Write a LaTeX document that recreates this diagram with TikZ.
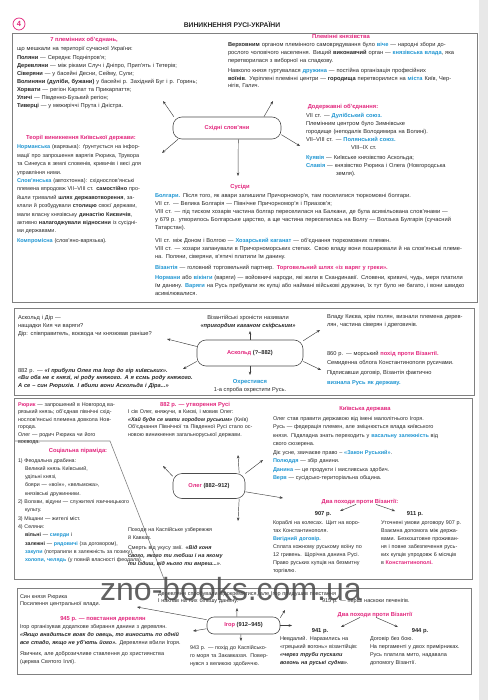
\documentclass[tikz,border=0pt]{standalone}
\usepackage{fontspec}
\setmainfont{Liberation Sans}
\usetikzlibrary{arrows.meta}
\definecolor{pk}{RGB}{226,38,125}
\definecolor{bl}{RGB}{32,150,210}
\definecolor{tx}{RGB}{40,40,40}
\newcommand{\pnk}[1]{\textcolor{pk}{\bfseries #1}}
\newcommand{\blu}[1]{\textcolor{bl}{\bfseries #1}}
\newcommand{\jst}[1]{\makebox[\linewidth][s]{#1}}
\newcommand{\qt}[1]{\textbf{\textit{#1}}}
\tikzset{
  txt/.style 2 args={inner sep=0pt, outer sep=0pt, anchor=north west, align=left, text=tx,
    font=\fontsize{#1}{#2}\selectfont, execute at begin node={\rule{0pt}{5.4pt}}},
  ttl/.style={inner sep=0pt, anchor=base, text=pk, font=\fontsize{5.8}{7}\selectfont\bfseries},
  yr/.style={inner sep=0pt, anchor=base, text=tx, font=\fontsize{5.8}{7}\selectfont\bfseries},
  hub/.style={draw=black!70, line width=0.6pt, rounded corners=9pt, fill=white, inner sep=0pt,
    font=\fontsize{5.7}{7}\selectfont\bfseries, text=tx},
  arr/.style={draw=black!75, line width=0.45pt, -{Stealth[length=3.4pt,width=2.6pt]}},
  panel/.style={draw=black!50, line width=0.6pt}
}
\begin{document}
\begin{tikzpicture}[x=1pt,y=-1pt]
\useasboundingbox (0,0) rectangle (488,700);
\fill[white] (0,0) rectangle (488,700);
\fill[black!9] (479,0) rectangle (488,700);

% header
\node[circle, draw=pk, line width=0.7pt, minimum size=12pt, inner sep=0pt, text=pk,
  font=\fontsize{7.5}{8}\selectfont\bfseries] (num) at (19,24) {4};
\node[inner sep=0pt, text=black!85, font=\fontsize{6.8}{8}\selectfont\bfseries] (head) at (232,25) {ВИНИКНЕННЯ РУСІ-УКРАЇНИ};

% ---------------- Panel 1
\draw[panel] (12,33) rectangle (477,302);
\node[ttl] (t1) at (84,42) {7 племінних об’єднань,};
\node[txt={5.7}{8.1}, text width=210pt] (b1) at (17,51-5.4) {що мешкали на території сучасної України:\\
\textbf{Поляни} — Середнє Подніпров’я;\\
\textbf{Деревляни} — між ріками Случ і Дніпро, Прип’ять і Тетерів;\\
\textbf{Сіверяни} — у басейні Десни, Сейму, Сули;\\
\textbf{Волиняни (дуліби, бужани)} у басейні р. Західний Буг і р. Горинь;\\
\textbf{Хорвати} — регіон Карпат та Прикарпаття;\\
\textbf{Уличі} — Південно-Бузький регіон;\\
\textbf{Тиверці} — у межиріччі Прута і Дністра.};

\node[ttl] (t2) at (341,39) {Племінні князівства};
\node[txt={5.7}{7.8}, text width=240pt] (b2) at (228,47-5.4) {\jst{\textbf{Верховним} органом племінного самоврядування було \blu{віче} — народні збори до-}\\
\jst{рослого чоловічого населення. Вищий \textbf{виконавчий} орган — \blu{князівська влада}, яка}\\
перетворилася з виборної на спадкову.\\[2pt]
\jst{Навколо князя гуртувалася \blu{дружина} — постійна організація професійних}\\
\jst{\textbf{воїнів}. Укріплені племінні центри — \textbf{городища} перетворилися на \blu{міста} Київ, Чер-}\\
нігів, Галич.};

\node[ttl] (t3) at (343,109) {Додержавні об’єднання:};
\node[txt={5.7}{8}, text width=162pt] (b3) at (306,118-5.4) {VII ст. — \blu{Дулібський союз.}\\
Племінним центром було Зимнівське\\
городище (неподалік Володимира на Волині).\\
VII–VIII ст. — \blu{Полянський союз.}\\
\hspace*{45pt}VIII–IX ст.\\[2pt]
\blu{Куявія} — Київське князівство Аскольда;\\
\blu{Славія} — князівство Рюрика і Олега (Новгородська\\
\hspace*{30pt}земля).};

\node[hub, minimum width=108pt, minimum height=22pt, text=pk] (ss) at (227,128) {Східні слов’яни};

\node[ttl] (t4) at (81,140) {Теорії виникнення Київської держави:};
\node[txt={5.5}{8.4}, text width=130pt] (b4) at (17,149-5.4) {\jst{\blu{Норманська} (варязька): ґрунтується на інфор-}\\
\jst{мації про запрошення варягів Рюрика, Трувора}\\
\jst{та Синеуса в землі словенів, кривичів і весі для}\\
управління ними.\\
\jst{\blu{Слов’янська} (автохтонна): східнослов’янські}\\
\jst{племена впродовж VII–VIII ст. \textbf{самостійно} про-}\\
\jst{йшли тривалий \textbf{шлях державотворення}, за-}\\
\jst{клали й розбудували \textbf{столицю} своєї держави,}\\
\jst{мали власну князівську \textbf{династію Києвичів},}\\
\jst{активно \textbf{налагоджували відносини} із сусідні-}\\
ми державами.\\[1.6pt]
\blu{Компромісна} (слов’яно-варязька).};

\node[ttl] (t5) at (240,189) {Сусіди};
\node[txt={5.7}{8}, text width=306pt] (b5) at (155,198-5.4) {\blu{Болгари.} Після того, як авари залишили Причорномор’я, там поселилися тюркомовні болгари.\\
VII ст. — Велика Болгарія — Північне Причорномор’я і Приазов’я;\\
\jst{VIII ст. — під тиском хозарів частина болгар переселилася на Балкани, де була асимільована слов’янами —}\\
\jst{у 679 р. утворилось Болгарське царство, а ще частина переселилась на Волгу — Волзька Булгарія (сучасний}\\
Татарстан).\\[5pt]
VII ст. між Доном і Волгою — \blu{Хозарський каганат} — об’єднання тюркомовних племен.\\
\jst{VIII ст. — хозари запанували в Причорноморських степах. Свою владу вони поширювали й на слов’янські племе-}\\
на. Поляни, сіверяни, в’ятичі платили їм данину.\\[3pt]
\blu{Візантія} — головний торговельний партнер. \pnk{Торговельний шлях «із варяг у греки».}\\[2pt]
\jst{\blu{Нормани} або \blu{вікінги} (варяги) — войовничі народи, які жили в Скандинавії. Словени, кривичі, чудь, меря платили}\\
\jst{їм данину. \blu{Варяги} на Русь прибували як купці або наймані військові дружини, їх тут було не багато, і вони швидко}\\
асимілювалися.};

\coordinate (a1) at (163,101);
\coordinate (a2) at (273,101);
\coordinate (a3) at (162,153);
\coordinate (a4) at (238,176);
\coordinate (a5) at (300,146);
\draw[arr] (ss.168) -- (a1);
\draw[arr] (ss.17) -- (a2);
\draw[arr] (ss.193) -- (a3);
\draw[arr] (ss.-45) -- (a4);
\draw[arr] (ss.-7) -- (a5);

% ---------------- Panel 2
\draw[panel] (14,308) rectangle (474,395);
\node[txt={5.7}{8}, text width=165pt] (b6) at (18,319-5.4) {Аскольд і Дір —\\
нащадки Кия чи варяги?\\
Дір: співправитель, воєвода чи князював раніше?};
\node[txt={5.7}{8}, text width=130pt, align=center, anchor=north] (b7) at (248,319-5.4) {Візантійські хроністи називали\\
\qt{«пригордим каганом скіфським»}};
\node[txt={5.7}{8}, text width=139pt] (b8) at (327,318-5.4) {\jst{Владу Києва, крім полян, визнали племена дерев-}\\
лян, частина сіверян і дреговичів.};
\node[hub, minimum width=106pt, minimum height=26pt] (ask) at (250,353) {\textcolor{pk}{Аскольд} (?–882)};
\node[txt={5.7}{7.6}, text width=178pt] (b9) at (18,372-5.4) {882 р. — \qt{«І прибули Олег та Ігор до гір київських».}\\
\qt{«Ви оба не є князі, ні роду княжого. А я єсмь роду княжого.}\\
\qt{А се – син Рюрихів. І вбили вони Аскольда і Діра...»}};
\node[ttl, text=bl] (t6) at (250,383) {Охрестився};
\node[inner sep=0pt, anchor=base, text=tx, font=\fontsize{5.7}{7}\selectfont] (t7) at (250,391) {1-а спроба охрестити Русь.};
\node[txt={5.7}{9.7}, text width=145pt] (b10) at (327,355-5.4) {860 р. — морський \pnk{похід проти Візантії.}\\
Семиденна облога Константинополя русичами.\\
Підписавши договір, Візантія фактично\\
\blu{визнала Русь як державу.}};

\coordinate (a6) at (250,331);
\coordinate (a7) at (167,339);
\coordinate (a8) at (320,330);
\coordinate (a9) at (183,369);
\coordinate (a10) at (250,375);
\coordinate (a11) at (321,370);
\draw[arr] (ask.north) -- (a6);
\draw[arr] (ask.173) -- (a7);
\draw[arr] (ask.13) -- (a8);
\draw[arr] (ask.189) -- (a9);
\draw[arr] (ask.south) -- (a10);
\draw[arr] (ask.-9) -- (a11);

% ---------------- Panel 3
\draw[panel] (14,398) rectangle (472,579);
\draw[panel] (14,441) -- (110,441) -- (164,579);
\node[txt={5.4}{7.5}, text width=98pt] (b11) at (18,406-5.4) {\jst{\pnk{Рюрик} — запрошений в Новгород ва-}\\
\jst{рязький князь; об’єднав північні схід-}\\
\jst{нослов’янські племена довкола Нов-}\\
города.\\
Олег — родич Рюрика чи його воєвода.};
\node[ttl] (t8) at (78,452) {Соціальна піраміда:};
\node[txt={5.3}{8.3}, text width=150pt] (b12) at (18,462-5.4) {1) Феодальна драбина:\\
\hspace*{7pt}Великий князь Київський,\\
\hspace*{7pt}удільні князі,\\
\hspace*{7pt}бояри — «воїн», «вельможа»,\\
\hspace*{7pt}князівські дружинники.\\
2) Волхви, відуни — служителі язичницького\\
\hspace*{7pt}культу.\\
3) Міщани — жителі міст.\\
4) Селяни:\\
\hspace*{7pt}\textbf{вільні} — \blu{смерди} і\\
\hspace*{7pt}\textbf{залежні} — \blu{рядовичі} (за договором),\\
\hspace*{7pt}\blu{закупи} (потрапили в залежність за позику),\\
\hspace*{7pt}\blu{холопи, челядь} (у повній власності феодала).};

\node[ttl] (t9) at (195,406) {882 р. — утворення Русі};
\node[txt={5.4}{7.5}, text width=124pt] (b13) at (128,413.5-5.4) {\jst{І сів Олег, княжучи, в Києві, і мовив Олег:}\\
\jst{\qt{«Хай буде се мати городом руським»} (Київ)}\\
\jst{Об’єднання Північної та Південної Русі стало ос-}\\
новою виникнення загальноруської держави.};
\node[hub, minimum width=72pt, minimum height=25pt] (oleg) at (209,486) {\textcolor{pk}{Олег} (882–912)};
\node[txt={5.4}{8}, text width=124pt] (b14) at (128,531-5.4) {Походи на Каспійське узбережжя\\
й Кавказ.\\[2pt]
\jst{Смерть від укусу змії. \qt{«Від коня}}\\
\jst{\qt{свого, якого ти любиш і на якому}}\\
\qt{ти їздиш, від нього ти вмреш...»}.};

\node[ttl] (t10) at (365,410) {Київська держава};
\node[txt={5.5}{8.5}, text width=182pt] (b15) at (273,420-5.4) {Олег став правити державою від імені малолітнього Ігоря.\\
\jst{Русь — федерація племен, але зміцнюється влада київського}\\
\jst{князя. Підвладна знать переходить у \blu{васальну залежність} від}\\
свого сюзерена.\\
Діє усне, звичаєве право – \blu{«Закон Руський»}.\\
\blu{Полюддя} — збір данини.\\
\blu{Данина} — це продукти і мисливська здобич.\\
\blu{Верв} — сусідсько-територіальна община.};

\node[ttl] (dp1) at (360,503) {Два походи проти Візантії:};
\coordinate (a17) at (340,511);
\coordinate (a18) at (395,511);
\draw[arr] ([xshift=-4pt]dp1.south) -- (a17);
\draw[arr] ([xshift=16pt]dp1.south) -- (a18);
\node[yr] (y907) at (323,515) {907 р.};
\node[yr] (y911) at (415,515) {911 р.};
\node[txt={5.4}{8.15}, text width=103pt] (b16) at (273,524-5.4) {\jst{Кораблі на колесах. Щит на воро-}\\
тах Константинополя.\\
\blu{Вигідний договір.}\\
\jst{Сплата кожному руському воїну по}\\
\jst{12 гривень. Щорічна данина Русі.}\\
\jst{Право руських купців на безмитну}\\
торгівлю.};
\node[txt={5.4}{8.15}, text width=86pt] (b17) at (381,524-5.4) {Уточнені умови договору 907 р.\\
\jst{Взаємна допомога між держа-}\\
\jst{вами. Безкоштовне проживан-}\\
\jst{ня і повне забезпечення русь-}\\
\jst{ких купців упродовж 6 місяців}\\
в \pnk{Константинополі.}};

\coordinate (a12) at (163,466);
\coordinate (a13) at (238,455);
\coordinate (a14) at (263,460);
\coordinate (a15) at (283,498);
\coordinate (a16) at (238,521);
\draw[arr] (oleg.165) -- (a12);
\draw[arr] (oleg.23) -- (a13);
\draw[arr] (oleg.19) -- (a14);
\draw[arr] (oleg.-9) -- (a15);
\draw[arr] (oleg.-23) -- (a16);

% ---------------- Panel 4
\draw[panel] (17,588) rectangle (471,674);
\node[txt={5.5}{7.5}, text width=100pt] (b18) at (20,598-5.4) {Син князя Рюрика\\
Посилення центральної влади.};
\node[ttl] (t11) at (103,620) {945 р. — повстання деревлян};
\node[txt={5.5}{8}, text width=163pt] (b19) at (20,628-5.4) {\jst{Ігор організував додаткове збирання данини з деревлян.}\\
\jst{\qt{«Якщо внадиться вовк до овець, то виносить по одній}}\\
\jst{\qt{все стадо, якщо не уб’ють його».} Деревляни вбили Ігоря.}\\[3pt]
\jst{Язичник, але доброзичливе ставлення до християнства}\\
(церква Святого Іллі).};
\node[hub, minimum width=73pt, minimum height=17pt, rounded corners=7pt] (igor) at (243.5,625.5) {\textcolor{pk}{Ігор} (912–945)};
\node[txt={5.5}{7.5}, text width=210pt] (b20) at (158,595-5.4) {Деревляни спробували відокремитися, але Ігор придушив повстання\\
І наклав на них більшу данину.};
\node[txt={5.5}{7.5}, text width=110pt] (b21) at (322,602-5.4) {915 р. — перші наскоки печенігів.};
\node[ttl] (dp2) at (375,616) {Два походи проти Візантії};
\coordinate (a25) at (341,627);
\coordinate (a26) at (398,627);
\draw[arr] ([xshift=-15pt]dp2.south) -- (a25);
\draw[arr] ([xshift=1pt]dp2.south) -- (a26);
\node[yr] (y941) at (320,632) {941 р.};
\node[yr] (y944) at (420,632) {944 р.};
\node[txt={5.5}{8.3}, text width=88pt] (b22) at (280,640-5.4) {Невдалий. Наразились на\\
«грецький вогонь» візантійців:\\
\qt{«через труби пускали}\\
\qt{вогонь на руські судна»}.};
\node[txt={5.5}{8.3}, text width=98pt] (b23) at (370,640-5.4) {Договір без бою.\\
На пергаменті у двох примірниках.\\
Русь платила мито, надавала\\
допомогу Візантії.};
\node[txt={5.4}{8}, text width=80pt] (b24) at (190,649-5.4) {\jst{943 р. — похід до Каспійсько-}\\
\jst{го моря та Закавказзя. Повер-}\\
нувся з великою здобиччю.};

\coordinate (a19) at (137,607);
\coordinate (a20) at (193,631);
\coordinate (a21) at (237,608);
\coordinate (a22) at (241,641);
\coordinate (a23) at (285,610);
\coordinate (a24) at (292,625.5);
\draw[arr] (igor.171) -- (a19);
\draw[arr] (igor.185) -- (a20);
\draw[arr] (igor.127) -- (a21);
\draw[arr] (igor.-107) -- (a22);
\draw[arr] (igor.12) -- (a23);
\draw[arr] (igor.east) -- (a24);

% watermark
\node[anchor=base west, inner sep=0pt, text=black!72, opacity=0.85,
  font=\fontsize{32}{32}\selectfont] (wm) at (100,600) {zno-books.com.ua};
\end{tikzpicture}
\end{document}
